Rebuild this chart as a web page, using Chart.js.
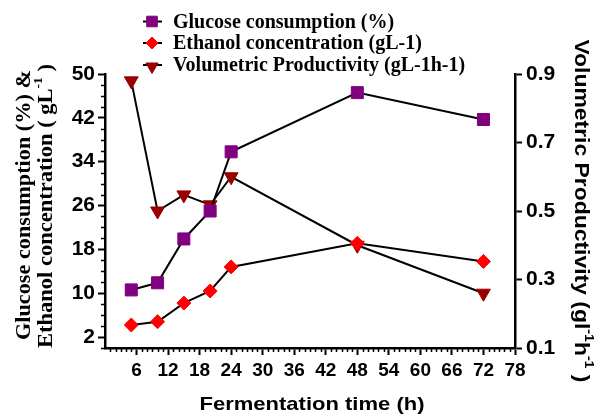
<!DOCTYPE html>
<html>
<head>
<meta charset="utf-8">
<script src="https://cdn.jsdelivr.net/npm/chart.js@4.4.0/dist/chart.umd.min.js"></script>
<style>
  html, body { margin: 0; padding: 0; background: #fff; }
  #wrap { width: 597px; height: 419px; }
</style>
</head>
<body>
<div id="wrap"><canvas id="chart" width="597" height="419"></canvas></div>
<script>
// data
const timeHours = [5, 10, 15, 20, 24, 48, 72];
const glucoseConsumption = [10.6, 11.9, 19.9, 25.0, 35.8, 46.6, 41.7];
const ethanolConc = [4.2, 4.8, 8.2, 10.4, 14.8, 19.1, 15.8];
const volProductivity = [0.88, 0.50, 0.547, 0.518, 0.60, 0.40, 0.26];

const xTicks = [6, 12, 18, 24, 30, 36, 42, 48, 54, 60, 66, 72, 78];
const leftTicks = [2, 10, 18, 26, 34, 42, 50];
const rightTicks = [0.1, 0.3, 0.5, 0.7, 0.9];

const seriesNames = ['Glucose consumption (%)', 'Ethanol concentration (gL-1)', 'Volumetric Productivity (gL-1h-1)'];

const SANS = "'Liberation Sans', Arial, sans-serif";
const SERIF = "'Liberation Serif', 'Times New Roman', serif";

const pairs = (ys) => timeHours.map((t, i) => ({ x: t, y: ys[i] }));

// draws text centred on the origin, with optional superscript parts,
// stretched along its length to `target` px when given
function drawRich(ctx, parts, size, family, target) {
  const full = 'bold ' + size + 'px ' + family;
  const small = 'bold ' + Math.round(size * 0.62) + 'px ' + family;
  let total = 0;
  parts.forEach(p => { ctx.font = p.sup ? small : full; total += ctx.measureText(p.t).width; });
  if (target) ctx.scale(target / total, 1);
  let x = -total / 2;
  ctx.textBaseline = 'middle';
  ctx.textAlign = 'left';
  parts.forEach(p => {
    ctx.font = p.sup ? small : full;
    ctx.fillText(p.t, x, p.sup ? -size * 0.38 : 0);
    x += ctx.measureText(p.t).width;
  });
}

const extras = {
  id: 'extras',
  afterDraw(chart) {
    const ctx = chart.ctx;
    const xs = chart.scales.x, ys = chart.scales.y;
    ctx.save();
    ctx.strokeStyle = '#000';
    ctx.lineWidth = 1.5;
    // minor ticks on x (every hour) and left y (every 2 units)
    ctx.beginPath();
    for (let v = 1; v < 78; v++) {
      if (v % 6 === 0) continue;
      const px = Math.round(xs.getPixelForValue(v)) + 0.5;
      ctx.moveTo(px, xs.top);
      ctx.lineTo(px, xs.top + 4);
    }
    for (let v = 0; v <= 50; v += 2) {
      if ((v - 2) % 8 === 0) continue;
      const py = Math.round(ys.getPixelForValue(v)) + 0.5;
      ctx.moveTo(ys.right, py);
      ctx.lineTo(ys.right - 4, py);
    }
    ctx.stroke();

    // legend: short black line with the series marker
    chart.data.datasets.forEach((ds, i) => {
      const cy = [21.5, 43, 65][i];
      ctx.beginPath();
      ctx.lineWidth = 2;
      ctx.strokeStyle = '#000';
      ctx.moveTo(143, cy);
      ctx.lineTo(162, cy);
      ctx.stroke();
      ctx.fillStyle = ds.pointBackgroundColor;
      ctx.strokeStyle = ds.pointBackgroundColor;
      ctx.lineWidth = 1;
      Chart.helpers.drawPoint(ctx, {
        pointStyle: ds.pointStyle,
        rotation: ds.pointRotation || 0,
        radius: ds.pointRadius - 1,
        borderWidth: 1
      }, 152, cy + (ds.pointRotation ? 1.5 : 0));
      ctx.fillStyle = '#000';
      ctx.font = 'bold 20px ' + SERIF;
      ctx.textAlign = 'left';
      ctx.textBaseline = 'middle';
      ctx.fillText(ds.label, 173, cy + 1);
    });

    // left axis title (two lines, rotated)
    ctx.fillStyle = '#000';
    ctx.save();
    ctx.translate(25, 205);
    ctx.rotate(-Math.PI / 2);
    drawRich(ctx, [{ t: 'Glucose consumption (%) &' }], 20, SERIF, 270);
    ctx.restore();
    ctx.save();
    ctx.translate(47, 206);
    ctx.rotate(-Math.PI / 2);
    drawRich(ctx, [{ t: 'Ethanol concentration ( gL' }, { t: '-1', sup: true }, { t: ' )' }], 20, SERIF, 284);
    ctx.restore();

    // right axis title
    ctx.save();
    ctx.translate(581, 211);
    ctx.rotate(Math.PI / 2);
    drawRich(ctx, [{ t: 'Volumetric Productivity (gl' }, { t: '-1', sup: true }, { t: 'h' }, { t: '-1', sup: true }, { t: ' )' }], 21, SANS, 343);
    ctx.restore();

    // x axis title
    ctx.save();
    ctx.translate(312, 405);
    drawRich(ctx, [{ t: 'Fermentation time (h)' }], 19, SANS, 225);
    ctx.restore();
    ctx.restore();
  }
};

const axisGrid = { drawOnChartArea: false, drawTicks: true, tickLength: 7, tickColor: '#000', tickWidth: 2 };
const axisBorder = { display: true, color: '#000', width: 2.5 };

new Chart(document.getElementById('chart'), {
  type: 'line',
  data: {
    datasets: [
      {
        label: seriesNames[0],
        data: pairs(glucoseConsumption),
        yAxisID: 'y',
        borderColor: '#000',
        borderWidth: 2,
        pointStyle: 'rect',
        pointRadius: 8.5,
        pointBackgroundColor: '#800080',
        pointBorderColor: '#800080',
        pointBorderWidth: 1,
        tension: 0
      },
      {
        label: seriesNames[1],
        data: pairs(ethanolConc),
        yAxisID: 'y',
        borderColor: '#000',
        borderWidth: 2,
        pointStyle: 'rectRot',
        pointRadius: 7,
        pointBackgroundColor: '#ff0000',
        pointBorderColor: '#ff0000',
        pointBorderWidth: 1,
        tension: 0
      },
      {
        label: seriesNames[2],
        data: pairs(volProductivity),
        yAxisID: 'y1',
        borderColor: '#000',
        borderWidth: 2,
        pointStyle: 'triangle',
        pointRotation: 180,
        pointRadius: 8,
        pointBackgroundColor: '#990000',
        pointBorderColor: '#990000',
        pointBorderWidth: 1,
        tension: 0
      }
    ]
  },
  options: {
    responsive: false,
    animation: false,
    layout: { padding: { top: 74, left: 0, right: 0, bottom: 0 } },
    plugins: { legend: { display: false }, tooltip: { enabled: false } },
    scales: {
      x: {
        type: 'linear',
        min: 0,
        max: 78,
        afterBuildTicks: (s) => { s.ticks = xTicks.map(v => ({ value: v })); },
        afterFit: (s) => { s.height = 71; },
        ticks: { font: { family: SANS, size: 19, weight: 'bold' }, color: '#000', padding: 4, maxRotation: 0, autoSkip: false },
        grid: axisGrid,
        border: axisBorder
      },
      y: {
        position: 'left',
        min: 0,
        max: 50,
        afterBuildTicks: (s) => { s.ticks = leftTicks.map(v => ({ value: v })); },
        afterFit: (s) => { s.width = 105; },
        ticks: { font: { family: SANS, size: 21, weight: 'bold' }, color: '#000', padding: 3 },
        grid: axisGrid,
        border: axisBorder
      },
      y1: {
        position: 'right',
        min: 0.1,
        max: 0.9,
        afterBuildTicks: (s) => { s.ticks = rightTicks.map(v => ({ value: v })); },
        afterFit: (s) => { s.width = 82; },
        ticks: { font: { family: SANS, size: 21, weight: 'bold' }, color: '#000', padding: 4, callback: (v) => v.toFixed(1) },
        grid: axisGrid,
        border: axisBorder
      }
    }
  },
  plugins: [extras]
});
</script>
</body>
</html>
